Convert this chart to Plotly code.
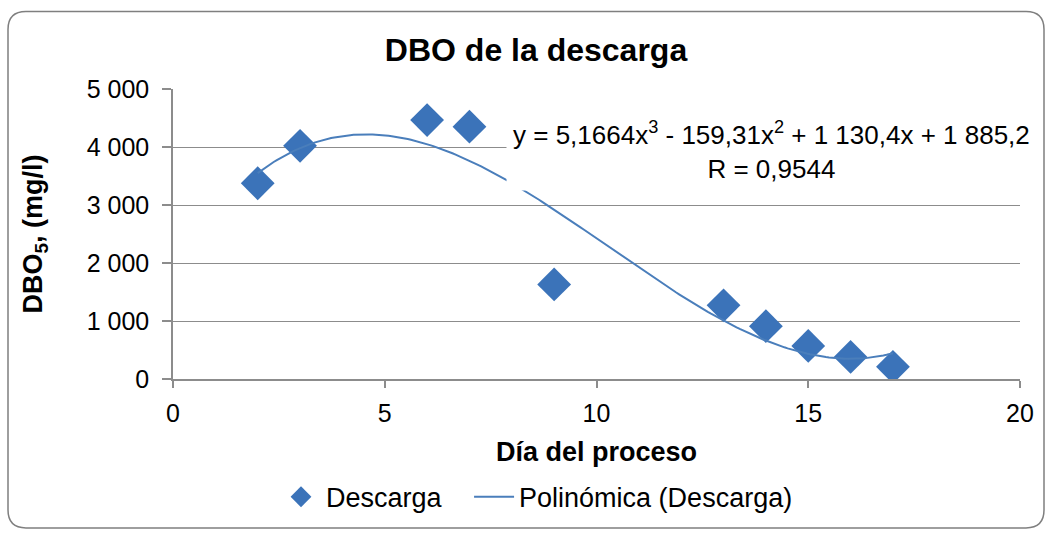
import numpy as np
import plotly.graph_objects as go

# Measured BOD5 of the discharge per process day
dias = [2, 3, 6, 7, 9, 13, 14, 15, 16, 17]
dbo = [3375, 4020, 4465, 4350, 1630, 1270, 910, 570, 380, 210]

# Cubic trend coefficients (highest power first) and correlation
coef = [5.1664, -159.31, 1130.4, 1885.2]
r_valor = 0.9544

x_fit = np.linspace(min(dias), max(dias), 200)
y_fit = np.polyval(coef, x_fit)

W, H = 1050, 533
L, R, T, B = 173, 30, 89, 152
pw, ph = W - L - R, H - T - B


def px(x):
    return (x - L) / pw


def py(y):
    return (H - B - y) / ph


azul = "#3b73b9"
gris = "#8c8c8c"
fuente = "Liberation Sans, Arial, sans-serif"
hueco = "\u00a0" * 3  # extra room between the two legend entries

fig = go.Figure()
fig.add_trace(go.Scatter(
    x=dias, y=dbo, mode="markers", name="Descarga" + hueco,
    marker=dict(symbol="diamond", size=26, color=azul,
                line=dict(width=0)),
))
fig.add_trace(go.Scatter(
    x=x_fit, y=y_fit, mode="lines", name="Polinómica (Descarga)",
    line=dict(color="#4a7ebb", width=2),
))

# rounded chart-area frame
x0, x1, y0, y1, rr = 8, 1044, 11, 531, 18
path = (
    f"M {px(x0 + rr)},{py(y0)} L {px(x1 - rr)},{py(y0)} "
    f"Q {px(x1)},{py(y0)} {px(x1)},{py(y0 + rr)} "
    f"L {px(x1)},{py(y1 - rr)} Q {px(x1)},{py(y1)} {px(x1 - rr)},{py(y1)} "
    f"L {px(x0 + rr)},{py(y1)} Q {px(x0)},{py(y1)} {px(x0)},{py(y1 - rr)} "
    f"L {px(x0)},{py(y0 + rr)} Q {px(x0)},{py(y0)} {px(x0 + rr)},{py(y0)} Z"
)

fig.update_layout(
    width=W, height=H,
    margin=dict(l=L, r=R, t=T, b=B),
    paper_bgcolor="white", plot_bgcolor="white",
    separators=", ",
    font=dict(family=fuente, size=25, color="black"),
    title=dict(text="<b>DBO de la descarga</b>", x=536 / W, xanchor="center",
               y=1 - 50 / H, yanchor="middle", font=dict(size=32)),
    xaxis=dict(range=[0, 20], tickvals=[0, 5, 10, 15, 20],
               showgrid=False, showline=True, linecolor=gris, linewidth=1.5,
               ticks="outside", ticklen=7, tickcolor=gris, tickwidth=1.5,
               zeroline=False, tickfont=dict(size=25), ticklabelstandoff=4,
               title=dict(text="<b>Día del proceso</b>", font=dict(size=27), standoff=16)),
    yaxis=dict(range=[0, 5000], tickvals=[0, 1000, 2000, 3000, 4000, 5000],
               tickformat=",d",
               showgrid=True, gridcolor=gris, gridwidth=1.2,
               showline=True, linecolor=gris, linewidth=1.5,
               ticks="outside", ticklen=9, tickcolor=gris, tickwidth=1.5,
               zeroline=False, tickfont=dict(size=25), ticklabelstandoff=8,
               title=dict(text="<b>DBO<sub>5</sub>, (mg/l)</b>", font=dict(size=27), standoff=36)),
    legend=dict(orientation="h", x=px(276), xanchor="left", y=py(500), yanchor="middle",
                font=dict(size=27), itemwidth=40),
    shapes=[dict(type="path", xref="paper", yref="paper", path=path,
                 line=dict(color="#7f7f7f", width=1.5), layer="below")],
    annotations=[dict(
        xref="paper", yref="paper", x=px(771), y=py(151), xanchor="center", yanchor="middle",
        text=("y = 5,1664x<sup>3</sup> - 159,31x<sup>2</sup> + 1 130,4x + 1 885,2<br>"
              f"R = {str(r_valor).replace('.', ',')}"),
        showarrow=False, bgcolor="white", font=dict(size=26), align="center",
        borderpad=6,
    )],
)

fig.write_html("out.html")
